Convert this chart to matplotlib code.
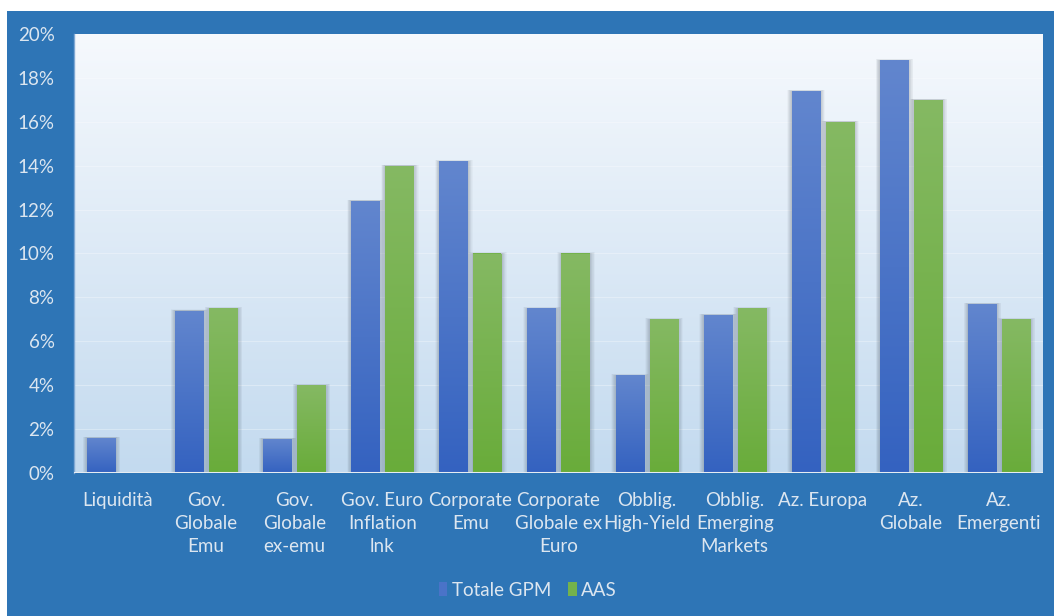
import numpy as np
import matplotlib
matplotlib.use('Agg')
import matplotlib.pyplot as plt
from matplotlib.patches import Rectangle
from matplotlib.colors import LinearSegmentedColormap

plt.rcParams['font.family'] = ['Lato', 'DejaVu Sans']

# asset classes and weights (%)
categories = ['Liquidità', 'Gov.\nGlobale\nEmu', 'Gov.\nGlobale\nex-emu',
              'Gov. Euro\nInflation\nlnk', 'Corporate\nEmu',
              'Corporate\nGlobale ex\nEuro', 'Obblig.\nHigh-Yield',
              'Obblig.\nEmerging\nMarkets', 'Az. Europa', 'Az.\nGlobale',
              'Az.\nEmergenti']
gpm = [1.6, 7.4, 1.55, 12.4, 14.2, 7.5, 4.45, 7.2, 17.4, 18.8, 7.7]
aas = [0.0, 7.5, 4.0, 14.0, 10.0, 10.0, 7.0, 7.5, 16.0, 17.0, 7.0]
series_names = ['Totale GPM', 'AAS']

outer_blue = '#2E75B6'
text_col = '#DCE6F0'
fs = 13.5

fig = plt.figure(figsize=(10.54, 6.16), dpi=100)
fig.patch.set_facecolor('white')
fig.patches.append(Rectangle((7 / 1054, 0), 1 - 7 / 1054, 1 - 11 / 616,
                             transform=fig.transFigure, facecolor=outer_blue,
                             edgecolor='none', zorder=-10))

ax = fig.add_axes([74 / 1054, 143 / 616, 969 / 1054, 439 / 616])
ax.set_xlim(-0.5, len(categories) - 0.5)
ax.set_ylim(0, 20)

# plot-area background gradient
bg = LinearSegmentedColormap.from_list('bg', ['#C3DAEF', '#F6F9FD'])
ax.imshow(np.linspace(0, 1, 256).reshape(-1, 1), cmap=bg, aspect='auto',
          extent=(-0.5, len(categories) - 0.5, 0, 20), origin='lower', zorder=0)

for y in range(2, 20, 2):
    ax.axhline(y, color='white', lw=0.8, alpha=0.3, zorder=1)
ax.axhline(0, color='#E6ECF2', lw=2.2, zorder=5)

blue_map = LinearSegmentedColormap.from_list('b', ['#3462C0', '#6286CE'])
green_map = LinearSegmentedColormap.from_list('g', ['#69AC3A', '#85B963'])

w = 0.318
gap = 0.068
x = np.arange(len(categories))
offsets = [-(w + gap) / 2, (w + gap) / 2]

for vals, off, cmap, face in [(gpm, offsets[0], blue_map, '#4A73C8'),
                              (aas, offsets[1], green_map, '#74B24C')]:
    bars = ax.bar(x + off, vals, width=w, facecolor=face, edgecolor='none',
                  linewidth=0, zorder=3)
    for b in bars:
        h = b.get_height()
        if h <= 0:
            continue
        x0, bw = b.get_x(), b.get_width()
        # soft blurred shadow around the bar
        for k in np.arange(0.006, 0.06, 0.006):
            ax.add_patch(Rectangle((x0 - k * 0.9, 0), bw + k * 2.0, h + k * 1.0,
                                   facecolor='#46505E', edgecolor='none',
                                   alpha=0.035, zorder=2))
        im = ax.imshow(np.linspace(0, 1, 256).reshape(-1, 1), cmap=cmap,
                       aspect='auto', extent=(x0, x0 + bw, 0, h),
                       origin='lower', zorder=4, interpolation='bilinear')
        im.set_clip_path(b)

ax.set_xlim(-0.5, len(categories) - 0.5)
ax.set_ylim(0, 20)
ax.set_yticks(range(0, 21, 2))
ax.set_yticklabels([f'{v}%' for v in range(0, 21, 2)])
ax.set_xticks(x)
ax.set_xticklabels(categories, linespacing=1.4, va='top')
ax.tick_params(colors=text_col, labelsize=fs, length=0)
ax.tick_params(axis='y', pad=14)
ax.tick_params(axis='x', pad=14)
for lab in ax.get_yticklabels() + ax.get_xticklabels():
    lab.set_color(text_col)
for s in ax.spines.values():
    s.set_visible(False)
ax.spines['left'].set_visible(True)
ax.spines['left'].set_color('#7FA8D4')
ax.spines['left'].set_linewidth(1.0)

handles = [Rectangle((0, 0), 1, 1, facecolor='#4A73C8'),
           Rectangle((0, 0), 1, 1, facecolor='#74B24C')]
fig.legend(handles, series_names, loc='center',
           bbox_to_anchor=(528 / 1054, 1 - 590 / 616),
           ncol=2, frameon=False, fontsize=fs, labelcolor=text_col,
           handlelength=0.45, handleheight=0.8, handletextpad=0.25,
           columnspacing=0.9)

fig.savefig('out.png', dpi=100, facecolor=fig.get_facecolor())
